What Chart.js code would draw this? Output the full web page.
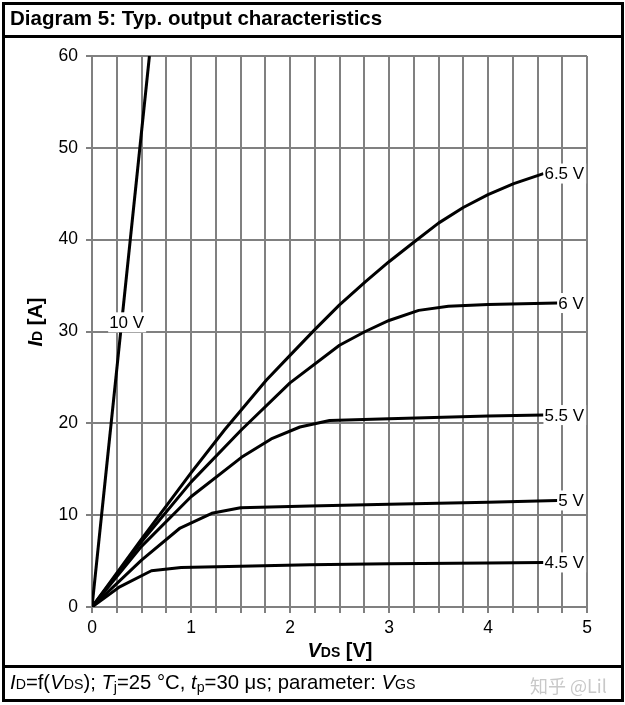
<!DOCTYPE html>
<html lang="en">
  <head>
    <meta charset="UTF-8" />
    <title>Diagram 5: Typ. output characteristics</title>
    <script src="https://cdn.jsdelivr.net/npm/chart.js@4.4.1/dist/chart.umd.min.js"></script>
    <style>
      html,
      body {
        margin: 0;
        padding: 0;
        background: #fff;
      }
      body {
        width: 625px;
        height: 705px;
        position: relative;
        overflow: hidden;
        font-family: Arial, "Liberation Sans", sans-serif;
        color: #000;
      }
      #chart {
        position: absolute;
        left: 0;
        top: 0;
      }
      .overlay {
        position: absolute;
        pointer-events: none;
      }
      #frame {
        left: 2px;
        top: 2px;
        width: 616px;
        height: 694px;
        border: 3px solid #000;
      }
      .rule {
        left: 2px;
        width: 622px;
        height: 3px;
        background: #000;
      }
      #title {
        left: 10px;
        top: 6px;
        font-weight: bold;
        font-size: 20.5px;
        white-space: nowrap;
      }
      #caption {
        left: 10px;
        top: 671px;
        font-size: 20.3px;
        white-space: nowrap;
      }
      #watermark {
        left: 530px;
        top: 672px;
        font-size: 18px;
        color: #c8c8c8;
        font-family: "Noto Sans CJK SC", Arial, sans-serif;
        white-space: nowrap;
      }
      .sub {
        font-size: 0.7em;
      }
      .low {
        font-size: 0.7em;
        vertical-align: -0.2em;
      }
      #xTitle {
        left: 340px;
        top: 650px;
        transform: translate(-50%, -50%);
        font-weight: bold;
        font-size: 20px;
        white-space: nowrap;
      }
      #yTitle {
        left: 35px;
        top: 322px;
        transform: translate(-50%, -50%) rotate(-90deg);
        font-weight: bold;
        font-size: 20px;
        white-space: nowrap;
      }
    </style>
  </head>
  <body>
    <canvas id="chart" width="625" height="705"></canvas>

    <div id="frame" class="overlay"></div>
    <div class="overlay rule" style="top: 35px"></div>
    <div class="overlay rule" style="top: 665px"></div>
    <div id="title" class="overlay">Diagram 5: Typ. output characteristics</div>
    <div id="caption" class="overlay">
      <i>I</i><span class="sub">D</span>=f(<i>V</i><span class="sub">DS</span>); <i>T</i><span class="low">j</span>=25 °C,
      <i>t</i><span class="low">p</span>=30 μs; parameter: <i>V</i><span class="sub">GS</span>
    </div>
    <div id="watermark" class="overlay">知乎 @Lil</div>
    <div id="xTitle" class="overlay"><i>V</i><span class="sub">DS</span> [V]</div>
    <div id="yTitle" class="overlay"><i>I</i><span class="sub">D</span> [A]</div>

    <script>
      // V_DS [V] / I_D [A], one pair per V_GS
      const vds_10 = [0, 0.58];
      const id_10 = [0, 60];

      const vds_65 = [0, 0.5, 1.0, 1.34, 1.76, 2.0, 2.25, 2.5, 2.76, 3.0, 3.26, 3.5, 3.75, 4.0, 4.26, 4.56];
      const id_65 = [0, 7.4, 14.6, 19.3, 24.7, 27.4, 30.2, 32.9, 35.4, 37.6, 39.8, 41.8, 43.5, 44.9, 46.1, 47.2];

      const vds_6 = [0, 0.5, 1.0, 1.51, 2.0, 2.5, 2.76, 3.0, 3.3, 3.6, 4.0, 4.7];
      const id_6 = [0, 7.1, 13.6, 19.3, 24.4, 28.5, 30.0, 31.2, 32.3, 32.75, 32.95, 33.1];

      const vds_55 = [0, 0.5, 1.0, 1.51, 1.81, 2.1, 2.4, 3.0, 4.0, 4.56];
      const id_55 = [0, 6.6, 12.0, 16.3, 18.3, 19.6, 20.3, 20.5, 20.8, 20.9];

      const vds_5 = [0, 0.5, 0.89, 1.21, 1.5, 2.2, 3.0, 4.0, 4.7];
      const id_5 = [0, 5.1, 8.6, 10.2, 10.8, 11.0, 11.2, 11.4, 11.6];

      const vds_45 = [0, 0.28, 0.6, 0.9, 1.5, 2.2, 3.0, 4.0, 4.56];
      const id_45 = [0, 2.2, 3.95, 4.3, 4.45, 4.6, 4.7, 4.8, 4.85];

      const curveLabels = ["10 V", "6.5 V", "6 V", "5.5 V", "5 V", "4.5 V"];
      const curveX = [vds_10, vds_65, vds_6, vds_55, vds_5, vds_45];
      const curveY = [id_10, id_65, id_6, id_55, id_5, id_45];

      // the 10 V label sits on the line, not at its end
      const label10At = [0.35, 31];

      const xTicks = [0, 1, 2, 3, 4, 5];
      const yTicks = [0, 10, 20, 30, 40, 50, 60];

      const gridGray = "#808080";
      const font = { family: "Arial, 'Liberation Sans', sans-serif", size: 17.5 };

      const datasets = curveLabels.map((label, i) => ({
        label,
        data: curveX[i].map((x, j) => ({ x, y: curveY[i][j] })),
        borderColor: "#000",
        borderWidth: 3,
        pointRadius: 0,
        tension: 0,
        borderJoinStyle: "round",
        fill: false,
      }));

      const curveLabelPlugin = {
        id: "curveLabels",
        afterDatasetsDraw(chart) {
          const { ctx, scales } = chart;
          ctx.save();
          ctx.font = "17px Arial, 'Liberation Sans', sans-serif";
          ctx.textBaseline = "middle";
          chart.data.datasets.forEach((ds, i) => {
            const text = ds.label;
            const w = ctx.measureText(text).width;
            let left, cy;
            if (i === 0) {
              left = scales.x.getPixelForValue(label10At[0]) - w / 2;
              cy = scales.y.getPixelForValue(label10At[1]);
            } else {
              const last = ds.data[ds.data.length - 1];
              left = scales.x.getPixelForValue(last.x) + 1;
              cy = scales.y.getPixelForValue(last.y);
            }
            ctx.fillStyle = "#fff";
            ctx.fillRect(left - 1, cy - 10, w + 3, 20);
            ctx.fillStyle = "#000";
            ctx.fillText(text, left, cy + 1);
          });
          ctx.restore();
        },
      };

      new Chart(document.querySelector("#chart"), {
        type: "line",
        data: { datasets },
        options: {
          responsive: false,
          animation: false,
          events: [],
          layout: { padding: { left: 0, top: 56, right: 38, bottom: 0 } },
          plugins: {
            legend: { display: false },
            tooltip: { enabled: false },
          },
          scales: {
            x: {
              type: "linear",
              min: 0,
              max: 5,
              afterFit: (scale) => {
                scale.height = 98;
              },
              ticks: {
                stepSize: 0.25,
                autoSkip: false,
                maxRotation: 0,
                padding: 5,
                color: "#000",
                font,
                callback: (v) => (xTicks.includes(v) ? v : ""),
              },
              grid: { color: gridGray, lineWidth: 2, tickLength: 6 },
              border: { color: gridGray, width: 2 },
            },
            y: {
              min: 0,
              max: 60,
              afterFit: (scale) => {
                scale.width = 92;
              },
              ticks: {
                stepSize: 10,
                padding: 8,
                color: "#000",
                font,
                callback: (v) => (yTicks.includes(v) ? v : ""),
              },
              grid: { color: gridGray, lineWidth: 2, tickLength: 6 },
              border: { color: gridGray, width: 2 },
            },
          },
        },
        plugins: [curveLabelPlugin],
      });
    </script>
  </body>
</html>
